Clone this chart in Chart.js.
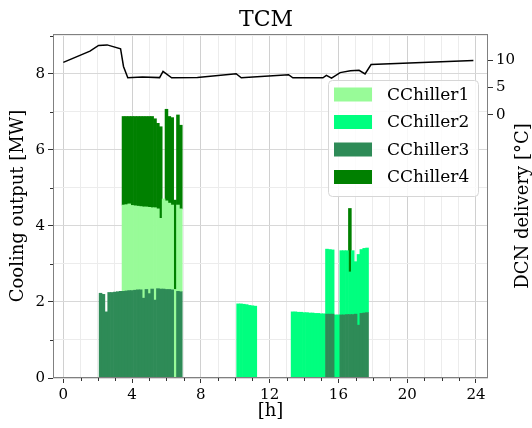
<!DOCTYPE html>
<html>
<head>
<meta charset="utf-8">
<title>TCM</title>
<script src="https://cdn.jsdelivr.net/npm/chart.js@4.4.1/dist/chart.umd.min.js"></script>
<style>
  html, body { margin: 0; padding: 0; background: #fff; }
  #wrap { width: 532px; height: 428px; position: relative; }
</style>
</head>
<body>
<div id="wrap"><canvas id="tcm"></canvas></div>
<script>
// cooling output per chiller [MW], 10 minute slots 00:00 .. 23:50 (12 slots per row)
const chiller1 = [
  0, 0, 0, 0, 0, 0, 0, 0, 0, 0, 0, 0,
  0, 0, 0, 0, 0, 0, 0, 0, 0, 2.27, 2.27, 2.28,
  2.24, 2.22, 2.20, 2.19, 2.40, 2.17, 2.27, 2.14, 2.43, 2.10, 1.86, 2.37,
  2.33, 2.27, 2.23, 2.33, 2.27, 2.18, 0, 0, 0, 0, 0, 0,
  0, 0, 0, 0, 0, 0, 0, 0, 0, 0, 0, 0,
  0, 0, 0, 0, 0, 0, 0, 0, 0, 0, 0, 0,
  0, 0, 0, 0, 0, 0, 0, 0, 0, 0, 0, 0,
  0, 0, 0, 0, 0, 0, 0, 0, 0, 0, 0, 0,
  0, 0, 0, 0, 0, 0, 0, 0, 0, 0, 0, 0,
  0, 0, 0, 0, 0, 0, 0, 0, 0, 0, 0, 0,
  0, 0, 0, 0, 0, 0, 0, 0, 0, 0, 0, 0,
  0, 0, 0, 0, 0, 0, 0, 0, 0, 0, 0, 0
];
const chiller2 = [
  0, 0, 0, 0, 0, 0, 0, 0, 0, 0, 0, 0,
  0, 0, 0, 0, 0, 0, 0, 0, 0, 0, 0, 0,
  0, 0, 0, 0, 0, 0, 0, 0, 0, 0, 0, 0,
  0, 0, 0, 0, 0, 0, 0, 0, 0, 0, 0, 0,
  0, 0, 0, 0, 0, 0, 0, 0, 0, 0, 0, 0,
  0, 1.95, 1.95, 1.94, 1.93, 1.91, 1.90, 1.89, 0, 0, 0, 0,
  0, 0, 0, 0, 0, 0, 0, 0, 1.74, 1.74, 1.73, 1.73,
  1.72, 1.72, 1.71, 1.71, 1.70, 1.70, 1.69, 1.69, 1.71, 1.70, 1.69, 1.66,
  1.66, 1.69, 1.69, 1.68, 1.12, 1.68, 1.38, 1.86, 1.68, 1.70, 1.70, 0,
  0, 0, 0, 0, 0, 0, 0, 0, 0, 0, 0, 0,
  0, 0, 0, 0, 0, 0, 0, 0, 0, 0, 0, 0,
  0, 0, 0, 0, 0, 0, 0, 0, 0, 0, 0, 0
];
const chiller3 = [
  0, 0, 0, 0, 0, 0, 0, 0, 0, 0, 0, 0,
  0, 2.23, 2.20, 1.74, 2.25, 2.25, 2.26, 2.27, 2.28, 2.28, 2.29, 2.30,
  2.30, 2.31, 2.32, 2.32, 2.10, 2.33, 2.22, 2.34, 2.05, 2.35, 2.34, 2.34,
  2.33, 2.33, 2.32, 0, 2.28, 2.27, 0, 0, 0, 0, 0, 0,
  0, 0, 0, 0, 0, 0, 0, 0, 0, 0, 0, 0,
  0, 0, 0, 0, 0, 0, 0, 0, 0, 0, 0, 0,
  0, 0, 0, 0, 0, 0, 0, 0, 0, 0, 0, 0,
  0, 0, 0, 0, 0, 0, 0, 0, 1.68, 1.68, 1.68, 0,
  0, 1.66, 1.66, 1.67, 1.67, 1.67, 1.68, 1.39, 1.70, 1.71, 1.72, 0,
  0, 0, 0, 0, 0, 0, 0, 0, 0, 0, 0, 0,
  0, 0, 0, 0, 0, 0, 0, 0, 0, 0, 0, 0,
  0, 0, 0, 0, 0, 0, 0, 0, 0, 0, 0, 0
];
const chiller4 = [
  0, 0, 0, 0, 0, 0, 0, 0, 0, 0, 0, 0,
  0, 0, 0, 0, 0, 0, 0, 0, 0, 2.33, 2.32, 2.30,
  2.34, 2.35, 2.36, 2.37, 2.38, 2.38, 2.39, 2.40, 2.34, 2.25, 2.41, 0,
  2.41, 2.28, 2.30, 2.35, 2.37, 2.20, 0, 0, 0, 0, 0, 0,
  0, 0, 0, 0, 0, 0, 0, 0, 0, 0, 0, 0,
  0, 0, 0, 0, 0, 0, 0, 0, 0, 0, 0, 0,
  0, 0, 0, 0, 0, 0, 0, 0, 0, 0, 0, 0,
  0, 0, 0, 0, 0, 0, 0, 0, 0, 0, 0, 0,
  0, 0, 0, 0, 1.67, 0, 0, 0, 0, 0, 0, 0,
  0, 0, 0, 0, 0, 0, 0, 0, 0, 0, 0, 0,
  0, 0, 0, 0, 0, 0, 0, 0, 0, 0, 0, 0,
  0, 0, 0, 0, 0, 0, 0, 0, 0, 0, 0, 0
];

// DCN delivery temperature [°C]
const dcnHours = [0, 1.55, 2.05, 2.55, 3.33, 3.5, 3.75, 4.6, 5.6, 5.8, 6.3, 7.8, 10.05, 10.35,
  13.1, 13.35, 15.1, 15.3, 15.6, 16.1, 16.7, 17.2, 17.55, 17.9, 23.85];
const dcnTemp = [9.6, 11.65, 12.7, 12.8, 12.1, 8.85, 6.77, 6.9, 6.8, 7.96, 6.77, 6.8, 7.52, 6.77,
  7.34, 6.77, 6.77, 7.2, 6.7, 7.72, 8.04, 8.15, 7.47, 9.2, 9.96];

const hourTicks = [0, 1, 2, 3, 4, 5, 6, 7, 8, 9, 10, 11, 12, 13, 14, 15, 16, 17, 18, 19, 20, 21, 22, 23, 24];
const mwTicks = [0, 1, 2, 3, 4, 5, 6, 7, 8, 9];
const tempTicks = [0, 5, 10];

const names = ['CChiller1', 'CChiller2', 'CChiller3', 'CChiller4'];
const colors = ['#98fb98', '#00ff7f', '#2e8b57', '#008000'];

const FONT = 'DejaVu Serif';
const slotHour = chiller1.map((_, i) => i / 6);
const toPoints = arr => arr.map((v, i) => ({ x: slotHour[i], y: v === 0 ? null : v }));

function barSet(idx, values) {
  return {
    type: 'bar',
    label: names[idx],
    data: toPoints(values),
    backgroundColor: colors[idx],
    borderWidth: 0,
    barPercentage: 1,
    categoryPercentage: 1,
    yAxisID: 'y'
  };
}

// frame, short minor ticks, right axis title and the legend box
const extras = {
  id: 'extras',
  afterDraw(chart) {
    const { ctx, chartArea: a, scales } = chart;
    ctx.save();
    ctx.strokeStyle = '#333';
    ctx.lineWidth = 1;
    ctx.beginPath();
    hourTicks.forEach(v => {
      if (v % 4 === 0) return;
      const x = Math.round(scales.x.getPixelForValue(v)) + 0.5;
      ctx.moveTo(x, a.bottom);
      ctx.lineTo(x, a.bottom + 3);
    });
    mwTicks.forEach(v => {
      if (v % 2 === 0) return;
      const y = Math.round(scales.y.getPixelForValue(v)) + 0.5;
      ctx.moveTo(a.left, y);
      ctx.lineTo(a.left - 3, y);
    });
    ctx.stroke();

    ctx.strokeStyle = '#808080';
    ctx.strokeRect(a.left + 0.5, a.top + 0.5, a.right - a.left - 1, a.bottom - a.top - 1);

    ctx.fillStyle = '#000';
    ctx.font = '18px "' + FONT + '"';
    ctx.textAlign = 'center';
    ctx.textBaseline = 'middle';
    ctx.translate(chart.width - 9, (a.top + a.bottom) / 2);
    ctx.rotate(-Math.PI / 2);
    ctx.fillText('DCN delivery [°C]', 0, 0);
    ctx.restore();

    ctx.save();
    const bx = a.right - 160, by = a.top + 46, bw = 150, bh = 116;
    ctx.beginPath();
    ctx.roundRect(bx + 0.5, by + 0.5, bw, bh, 4);
    ctx.fillStyle = 'rgba(255,255,255,0.85)';
    ctx.fill();
    ctx.strokeStyle = '#d6d6d6';
    ctx.stroke();
    ctx.font = '17px "' + FONT + '"';
    ctx.textAlign = 'left';
    ctx.textBaseline = 'middle';
    names.forEach((n, i) => {
      const cy = by + 14.5 + i * 27.5;
      ctx.fillStyle = colors[i];
      ctx.fillRect(bx + 6, cy - 7, 38, 14);
      ctx.fillStyle = '#000';
      ctx.fillText(n, bx + 59, cy + 1);
    });
    ctx.restore();
  }
};

new Chart(document.getElementById('tcm'), {
  type: 'bar',
  data: {
    datasets: [
      barSet(2, chiller3),
      barSet(0, chiller1),
      barSet(1, chiller2),
      barSet(3, chiller4),
      {
        type: 'line',
        label: 'DCN delivery',
        data: dcnHours.map((h, i) => ({ x: h, y: dcnTemp[i] })),
        borderColor: '#000',
        borderWidth: 1.5,
        pointRadius: 0,
        tension: 0,
        fill: false,
        yAxisID: 'y2'
      }
    ]
  },
  options: {
    responsive: true,
    maintainAspectRatio: false,
    animation: false,
    layout: { padding: 0 },
    plugins: {
      legend: { display: false },
      tooltip: { enabled: false },
      title: {
        display: true,
        text: 'TCM',
        color: '#000',
        font: { family: FONT, size: 22, weight: 'normal', lineHeight: 1.2 },
        padding: { top: 7, bottom: 0.6 }
      }
    },
    scales: {
      x: {
        type: 'linear',
        min: -0.6,
        max: 24.7,
        offset: false,
        stacked: true,
        afterBuildTicks: s => { s.ticks = hourTicks.map(v => ({ value: v })); },
        afterFit: s => { s.height = 50; },
        ticks: {
          autoSkip: false,
          maxRotation: 0,
          padding: 3,
          color: '#000',
          font: { family: FONT, size: 15 },
          callback: v => (v % 4 === 0 ? v : '')
        },
        grid: {
          offset: false,
          color: c => (c.tick && c.tick.value % 4 === 0 ? '#d0d0d0' : '#ececec'),
          tickLength: 5,
          tickColor: c => (c.tick && c.tick.value % 4 === 0 ? '#333' : 'rgba(0,0,0,0)')
        },
        border: { display: false },
        title: {
          display: true,
          text: '[h]',
          color: '#000',
          font: { family: FONT, size: 18, lineHeight: 1.2 },
          padding: { top: 0, bottom: 6 }
        }
      },
      y: {
        position: 'left',
        min: 0,
        max: 9.05,
        stacked: true,
        afterBuildTicks: s => { s.ticks = mwTicks.map(v => ({ value: v })); },
        afterFit: s => { s.width = 53; },
        ticks: {
          padding: 3,
          color: '#000',
          font: { family: FONT, size: 15 },
          callback: v => (v % 2 === 0 ? v : '')
        },
        grid: {
          color: c => (c.tick && c.tick.value % 2 === 0 ? '#d8d8d8' : '#ececec'),
          tickLength: 5,
          tickColor: c => (c.tick && c.tick.value % 2 === 0 ? '#333' : 'rgba(0,0,0,0)')
        },
        border: { display: false },
        title: {
          display: true,
          text: 'Cooling output [MW]',
          color: '#000',
          font: { family: FONT, size: 18, lineHeight: 1.2 },
          padding: { top: 8, bottom: 0 }
        }
      },
      y2: {
        position: 'right',
        min: -48.3,
        max: 14.8,
        afterBuildTicks: s => { s.ticks = tempTicks.map(v => ({ value: v })); },
        afterFit: s => { s.width = 44; },
        ticks: {
          padding: 3,
          color: '#000',
          font: { family: FONT, size: 15 }
        },
        grid: { drawOnChartArea: false, tickLength: 5, tickColor: '#333' },
        border: { display: false }
      }
    }
  },
  plugins: [extras]
});
</script>
</body>
</html>
